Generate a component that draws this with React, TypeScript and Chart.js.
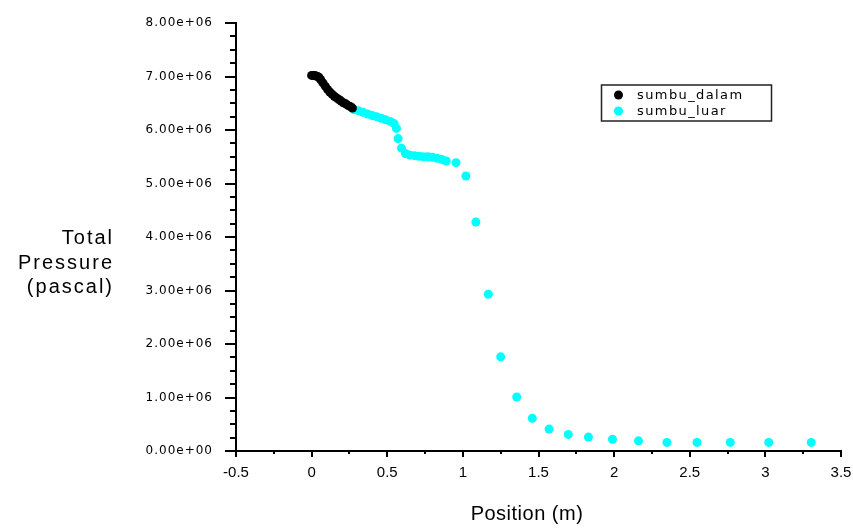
import React, { useEffect, useRef } from 'react';
import { Chart, registerables } from 'chart.js';

Chart.register(...registerables);

// ---- data (position in m, total pressure in Pa) ----
const seriesNames = ['sumbu_dalam', 'sumbu_luar'];

const dalamX = [0, 0.01, 0.02, 0.03, 0.04, 0.05, 0.06, 0.075, 0.09, 0.105, 0.12, 0.135, 0.15, 0.165, 0.18, 0.195, 0.21, 0.225, 0.24, 0.255, 0.27];
const dalamY = [7020000, 7020000, 7020000, 7010000, 7000000, 6980000, 6940000, 6880000, 6820000, 6760000, 6710000, 6670000, 6630000, 6600000, 6570000, 6540000, 6510000, 6490000, 6460000, 6440000, 6410000];

const luarX = [0.28, 0.31, 0.34, 0.37, 0.4, 0.43, 0.46, 0.49, 0.52, 0.545, 0.561, 0.572, 0.594, 0.62, 0.65, 0.68, 0.71, 0.74, 0.77, 0.8, 0.83, 0.86, 0.89, 0.955, 1.02, 1.086, 1.168, 1.25, 1.356, 1.459, 1.57, 1.697, 1.83, 1.989, 2.161, 2.349, 2.548, 2.768, 3.022, 3.303];
const luarY = [6380000, 6360000, 6330000, 6300000, 6270000, 6250000, 6220000, 6190000, 6160000, 6120000, 6030000, 5840000, 5660000, 5560000, 5530000, 5520000, 5510000, 5500000, 5500000, 5490000, 5470000, 5450000, 5420000, 5390000, 5140000, 4280000, 2930000, 1760000, 1010000, 610000, 410000, 310000, 260000, 220000, 190000, 160000, 160000, 160000, 160000, 160000];

const xTickLabels = ['-0.5', '0', '0.5', '1', '1.5', '2', '2.5', '3', '3.5'];
const yTickLabels = ['0.00e+00', '1.00e+06', '2.00e+06', '3.00e+06', '4.00e+06', '5.00e+06', '6.00e+06', '7.00e+06', '8.00e+06'];
const xTitle = 'Position (m)';
const yTitleLines = ['Total', 'Pressure', '(pascal)'];

const seriesColors = ['#000000', '#00ffff'];
const FONT = '"Liberation Sans", Arial, sans-serif';
const YFONT = '"DejaVu Sans", sans-serif';

const decorPlugin = {
  id: 'decor',
  beforeDraw(chart: any) {
    const ys: any = chart.scales.y;
    if (ys && !ys.__patched) {
      const orig = ys.drawLabels;
      ys.drawLabels = function (area: any) {
        const c = this.ctx;
        c.save();
        c.letterSpacing = '1px';
        orig.call(this, area);
        c.restore();
      };
      ys.__patched = true;
    }
  },
  afterDraw(chart: any) {
    const ctx = chart.ctx;
    const area = chart.chartArea;
    const xs = chart.scales.x;
    const ys = chart.scales.y;
    ctx.save();
    ctx.strokeStyle = '#000';
    ctx.lineWidth = 2;
    // y ticks (major + minor), outside left
    for (let i = 0; i <= 32; i++) {
      const v = i * 250000;
      const py = Math.round(ys.getPixelForValue(v));
      const len = i % 4 === 0 ? 11 : 6;
      ctx.beginPath();
      ctx.moveTo(area.left - len, py);
      ctx.lineTo(area.left, py);
      ctx.stroke();
    }
    // x ticks (major + minor), outside bottom
    for (let i = 0; i <= 16; i++) {
      const v = -0.5 + i * 0.25;
      const px = Math.round(xs.getPixelForValue(v));
      const len = i % 2 === 0 ? 6 : 3;
      ctx.beginPath();
      ctx.moveTo(px, area.bottom);
      ctx.lineTo(px, area.bottom + len);
      ctx.stroke();
    }
    // axis titles
    ctx.fillStyle = '#000';
    ctx.textBaseline = 'middle';
    ctx.font = `20px ${FONT}`;
    (ctx as any).letterSpacing = '0.5px';
    ctx.textAlign = 'center';
    ctx.fillText(xTitle, 527, 514);
    (ctx as any).letterSpacing = '2px';
    ctx.textAlign = 'right';
    const lineYs = [238, 263, 287];
    yTitleLines.forEach((t, i) => ctx.fillText(t, 114, lineYs[i]));
    // legend box
    (ctx as any).letterSpacing = '0px';
    ctx.lineWidth = 1.5;
    ctx.strokeStyle = '#222';
    ctx.strokeRect(601.5, 85, 170, 36);
    ctx.font = `13px ${YFONT}`;
    (ctx as any).letterSpacing = '1.4px';
    ctx.textAlign = 'left';
    const legYs = [95, 111];
    seriesNames.forEach((name, i) => {
      ctx.fillStyle = seriesColors[i];
      ctx.beginPath();
      ctx.arc(618.5, legYs[i], 4.5, 0, Math.PI * 2);
      ctx.fill();
      ctx.fillStyle = '#000';
      ctx.fillText(name, 637, legYs[i] + 1);
    });
    ctx.restore();
  },
};

const zeroPad = (s: any) => {
  s.paddingLeft = 0;
  s.paddingRight = 0;
  s.paddingTop = 0;
  s.paddingBottom = 0;
};

export default function App() {
  const ref = useRef<HTMLCanvasElement | null>(null);
  useEffect(() => {
    if (!ref.current) return;
    const chart = new Chart(ref.current, {
      type: 'scatter',
      data: {
        datasets: [
          {
            label: seriesNames[0],
            data: dalamX.map((x, i) => ({ x, y: dalamY[i] })),
            backgroundColor: seriesColors[0],
            borderColor: seriesColors[0],
            borderWidth: 0,
            pointRadius: 4.5,
          },
          {
            label: seriesNames[1],
            data: luarX.map((x, i) => ({ x, y: luarY[i] })),
            backgroundColor: seriesColors[1],
            borderColor: seriesColors[1],
            borderWidth: 0,
            pointRadius: 4.5,
          },
        ],
      },
      options: {
        responsive: false,
        animation: false,
        devicePixelRatio: 1,
        layout: { padding: { top: 23, right: 12, left: 0, bottom: 0 } },
        plugins: { legend: { display: false }, tooltip: { enabled: false } },
        scales: {
          x: {
            type: 'linear',
            min: -0.5,
            max: 3.5,
            grid: { display: false, drawTicks: false },
            border: { display: true, color: '#000', width: 2 },
            ticks: {
              stepSize: 0.5,
              padding: 13,
              color: '#000',
              autoSkip: false,
              maxRotation: 0,
              font: { family: FONT, size: 15 },
              callback: (v: any) => xTickLabels[Math.round((Number(v) + 0.5) / 0.5)] ?? '',
            },
            afterFit: (s: any) => {
              s.height = 77;
              zeroPad(s);
            },
          },
          y: {
            type: 'linear',
            min: 0,
            max: 8000000,
            grid: { display: false, drawTicks: false },
            border: { display: true, color: '#000', width: 2 },
            ticks: {
              stepSize: 1000000,
              padding: 23,
              color: '#000',
              autoSkip: false,
              font: { family: YFONT, size: 12 },
              callback: (v: any) => yTickLabels[Math.round(Number(v) / 1000000)] ?? '',
            },
            afterFit: (s: any) => {
              s.width = 236;
              zeroPad(s);
            },
          },
        },
      },
      plugins: [decorPlugin],
    } as any);
    return () => chart.destroy();
  }, []);
  return (
    <div style={{ position: 'fixed', left: 0, top: 0, width: 853, height: 528, background: '#fff' }}>
      <canvas ref={ref} width={853} height={528} style={{ display: 'block' }} />
    </div>
  );
}
